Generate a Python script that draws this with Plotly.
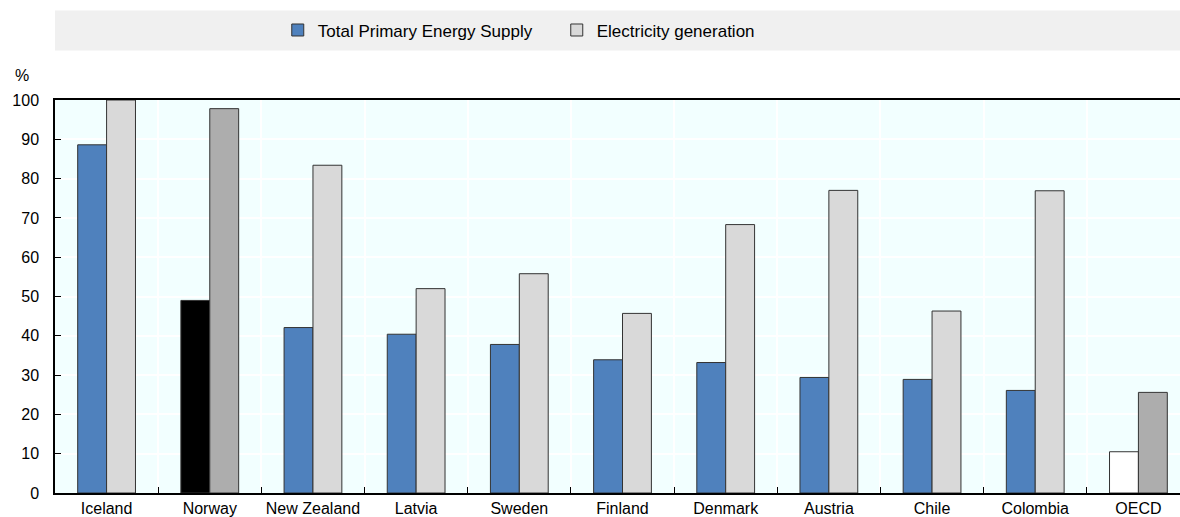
import plotly.graph_objects as go

countries = ["Iceland", "Norway", "New Zealand", "Latvia", "Sweden", "Finland",
             "Denmark", "Austria", "Chile", "Colombia", "OECD"]
tpes = [88.6, 49.0, 42.1, 40.4, 37.8, 33.9, 33.2, 29.4, 28.9, 26.1, 10.5]
electricity = [100.0, 97.8, 83.4, 52.0, 55.8, 45.7, 68.3, 77.0, 46.3, 76.9, 25.6]

BLUE = "#4F81BD"
LIGHT = "#D9D9D9"
DARK = "#ADADAD"

# Norway is highlighted, OECD average drawn in neutral tones
tpes_colors = [BLUE] * len(countries)
tpes_colors[countries.index("Norway")] = "#000000"
tpes_colors[countries.index("OECD")] = "#FFFFFF"
elec_colors = [LIGHT] * len(countries)
elec_colors[countries.index("Norway")] = DARK
elec_colors[countries.index("OECD")] = DARK

FONT = "Liberation Sans, Arial, sans-serif"

fig = go.Figure()
fig.add_trace(go.Bar(
    name="Total Primary Energy Supply", x=countries, y=tpes,
    marker=dict(color=tpes_colors, line=dict(color="#333333", width=1)),
))
fig.add_trace(go.Bar(
    name="Electricity generation", x=countries, y=electricity,
    marker=dict(color=elec_colors, line=dict(color="#333333", width=1)),
))

# grey band behind the legend
fig.add_shape(type="rect", xref="paper", yref="paper",
              x0=0, x1=1, y0=1.126, y1=1.228,
              fillcolor="#F0F0F0", line=dict(width=0), layer="below")

fig.add_annotation(text="%", xref="paper", yref="paper", x=-0.0293, y=1.062,
                   xanchor="center", yanchor="middle",
                   showarrow=False, font=dict(size=16, color="#000000", family=FONT))

fig.update_layout(
    width=1180, height=517,
    margin=dict(l=55, r=0, t=100, b=24, autoexpand=False),
    paper_bgcolor="#FFFFFF",
    plot_bgcolor="#F2FFFF",
    barmode="group",
    bargap=0.44,
    bargroupgap=0,
    font=dict(family=FONT, size=16, color="#000000"),
    showlegend=True,
    legend=dict(orientation="h", x=0.198, xanchor="left", y=1.177, yanchor="middle",
                bgcolor="rgba(0,0,0,0)", font=dict(size=17, family=FONT),
                itemwidth=30, entrywidth=234, traceorder="normal"),
)
fig.update_xaxes(
    type="category", range=[-0.5, 10.403], tickangle=0, automargin=False,
    tickson="boundaries", ticks="inside", ticklen=6, tickcolor="#000000",
    showgrid=True, gridcolor="#FFFFFF", gridwidth=1.5,
    showline=True, linecolor="#000000", linewidth=1.5, mirror=True,
    tickfont=dict(size=16, family=FONT),
)
fig.update_yaxes(
    range=[0, 100], dtick=10, ticks="inside", ticklen=6, tickcolor="#000000",
    showgrid=True, gridcolor="#FFFFFF", gridwidth=1.5, automargin=False,
    showline=True, linecolor="#000000", linewidth=1.5, ticklabelstandoff=11,
    zeroline=False, tickfont=dict(size=16, family=FONT),
)

fig.write_html("out.html")
